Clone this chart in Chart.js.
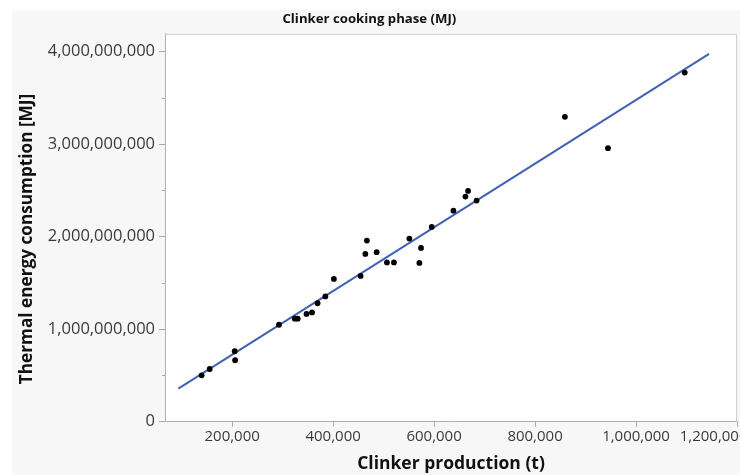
<!DOCTYPE html>
<html>
<head>
<meta charset="utf-8">
<script src="https://cdn.jsdelivr.net/npm/chart.js@4.4.1/dist/chart.umd.min.js"></script>
<style>
  html, body { margin: 0; padding: 0; overflow: hidden; background: #ffffff; width: 740px; height: 475px; }
  canvas { display: block; }
</style>
</head>
<body>
<canvas id="c" width="800" height="475"></canvas>
<script>
// ---- Data ----
const chartTitle = 'Clinker cooking phase (MJ)';
const xAxisTitle = 'Clinker production (t)';
const yAxisTitle = 'Thermal energy consumption [MJ]';

// Clinker production (t)
const productionT = [
  139600, 155500, 205100, 205900, 292800, 324100, 329900, 347300, 358200, 369200,
  384600, 401500, 454400, 463800, 466900, 486200, 506600, 520500, 551000, 570900,
  574100, 595300, 638300, 662100, 667300, 684200, 859100, 944400, 1096500
];
// Thermal energy consumption (MJ)
const energyMJ = [
  501.6e6, 569.7e6, 761.0e6, 663.8e6, 1047.6e6, 1113.5e6, 1113.5e6, 1164.3e6, 1180.6e6, 1280.0e6,
  1353.5e6, 1542.7e6, 1575.2e6, 1813.0e6, 1956.8e6, 1831.4e6, 1721.1e6, 1721.1e6, 1978.4e6, 1715.7e6,
  1877.9e6, 2104.9e6, 2280.0e6, 2432.5e6, 2494.1e6, 2389.2e6, 3294.1e6, 2955.7e6, 3773.0e6
];
// Fitted line end points as drawn
const fitLineX = [93400, 1144700];
const fitLineY = [357e6, 3975e6];

// Axis ticks
const xTickValues = [200000, 400000, 600000, 800000, 1000000, 1200000];
const yTickValues = [0, 1e9, 2e9, 3e9, 4e9];
const yMinorTickValues = [0.5e9, 1.5e9, 2.5e9, 3.5e9];
const xRange = [67000, 1200000];
const yRange = [0, 4.19e9];

// ---- Build datasets ----
const scatterPoints = productionT.map((x, i) => ({ x: x, y: energyMJ[i] }));
const linePoints = fitLineX.map((x, i) => ({ x: x, y: fitLineY[i] }));

const fmt = v => Number(v).toLocaleString('en-US');
const NB = '\u00a0';
const lastXTick = xTickValues[xTickValues.length - 1];

const backgroundPlugin = {
  id: 'bgPanel',
  beforeDraw(chart) {
    const { ctx, chartArea: a } = chart;
    ctx.save();
    ctx.fillStyle = '#ffffff';
    ctx.fillRect(0, 0, chart.width, chart.height);
    ctx.fillStyle = '#f7f7f7';
    ctx.fillRect(12, 10, chart.width - 12, chart.height - 10);
    ctx.fillStyle = '#ffffff';
    ctx.fillRect(a.left, a.top, a.right - a.left, a.bottom - a.top);
    ctx.restore();
  },
  afterDraw(chart) {
    const { ctx, chartArea: a } = chart;
    ctx.save();
    ctx.strokeStyle = '#cfcfcf';
    ctx.lineWidth = 1;
    ctx.beginPath();
    ctx.moveTo(a.left, a.top + 0.5);
    ctx.lineTo(a.right - 0.5, a.top + 0.5);
    ctx.lineTo(a.right - 0.5, a.bottom);
    ctx.stroke();
    const ys = chart.scales.y;
    ctx.strokeStyle = '#a8a8a8';
    ctx.beginPath();
    yMinorTickValues.forEach(v => {
      const p = Math.round(ys.getPixelForValue(v)) + 0.5;
      ctx.moveTo(a.left - 3, p);
      ctx.lineTo(a.left, p);
    });
    ctx.stroke();
    ctx.restore();
  }
};

new Chart(document.getElementById('c'), {
  type: 'scatter',
  data: {
    datasets: [
      {
        label: 'Fit',
        data: linePoints,
        showLine: true,
        borderColor: '#3f62b3',
        borderWidth: 2,
        pointRadius: 0,
        fill: false,
        order: 2
      },
      {
        label: 'Observations',
        data: scatterPoints,
        backgroundColor: '#000000',
        borderColor: '#000000',
        pointRadius: 2.9,
        pointBorderWidth: 0,
        order: 1
      }
    ]
  },
  options: {
    responsive: false,
    animation: false,
    layout: { padding: { left: 12, top: 10, right: 63, bottom: 0 } },
    plugins: {
      legend: { display: false },
      tooltip: { enabled: false },
      title: {
        display: true,
        text: chartTitle + NB.repeat(3),
        color: '#111111',
        font: { family: 'Open Sans', size: 13.2, weight: 'bold' },
        padding: { top: 1.5, bottom: 6.6 }
      }
    },
    scales: {
      x: {
        type: 'linear',
        min: xRange[0],
        max: xRange[1],
        afterBuildTicks: s => { s.ticks = xTickValues.map(v => ({ value: v })); },
        afterFit: s => { s.height = 53.3; },
        ticks: {
          callback: v => v === lastXTick ? fmt(v) + NB.repeat(12) : fmt(v),
          color: '#3a3a3a',
          font: { family: 'Open Sans', size: 15 },
          padding: 1.5,
          maxRotation: 0,
          autoSkip: false
        },
        grid: { drawOnChartArea: false, drawTicks: true, tickLength: 5, color: '#a8a8a8' },
        border: { display: true, color: '#b0b0b0', width: 1 },
        title: {
          display: true,
          text: xAxisTitle,
          color: '#111111',
          font: { family: 'Open Sans', size: 17.5, weight: 'bold' },
          padding: { top: 0, bottom: 0 }
        }
      },
      y: {
        type: 'linear',
        min: yRange[0],
        max: yRange[1],
        afterBuildTicks: s => { s.ticks = yTickValues.map(v => ({ value: v })); },
        afterFit: s => { s.width = 153; },
        ticks: {
          callback: v => fmt(v),
          color: '#3a3a3a',
          font: { family: 'Open Sans', size: 16.5 },
          padding: 4
        },
        grid: { drawOnChartArea: false, drawTicks: true, tickLength: 6, color: '#a8a8a8' },
        border: { display: true, color: '#b0b0b0', width: 1 },
        title: {
          display: true,
          text: yAxisTitle + NB + NB + NB + NB + NB,
          color: '#111111',
          font: { family: 'Open Sans', size: 17.2, weight: 'bold' },
          padding: { top: 5, bottom: 0 }
        }
      }
    }
  },
  plugins: [backgroundPlugin]
});
</script>
</body>
</html>
